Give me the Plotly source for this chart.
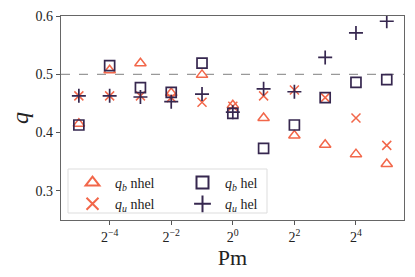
import numpy as np
import plotly.graph_objects as go

pm = [2.0**k for k in range(-5, 6)]
qb_nhel = [0.415, 0.507, 0.519, 0.468, 0.499, 0.447, 0.425, 0.395, 0.379, 0.363, 0.346]
qu_nhel = [0.463, 0.463, 0.463, 0.460, 0.452, 0.445, 0.463, 0.473, 0.460, 0.425, 0.378]
qb_hel = [0.413, 0.515, 0.477, 0.469, 0.519, 0.433, 0.373, 0.413, 0.460, 0.486, 0.491]
qu_hel = [0.463, 0.463, 0.461, 0.453, 0.466, 0.435, 0.475, 0.470, 0.529, 0.571, 0.591]

xtick_vals = [2.0**-4, 2.0**-2, 2.0**0, 2.0**2, 2.0**4]
xtick_text = ["2<sup>−4</sup>", "2<sup>−2</sup>", "2<sup>0</sup>", "2<sup>2</sup>", "2<sup>4</sup>"]
ytick_vals = [0.3, 0.4, 0.5, 0.6]
ytick_text = ["0.3", "0.4", "0.5", "0.6"]

ORANGE = "#f2674a"
DARK = "#36274f"
FONT = "Liberation Serif"

fig = go.Figure()
fig.add_trace(go.Scatter(x=pm, y=qb_nhel, mode="markers", name="<i>q</i><sub><i>b</i></sub> nhel",
                         marker=dict(symbol="triangle-up-open", size=10, color=ORANGE, line=dict(width=1.5, color=ORANGE)),
                         legend="legend"))
fig.add_trace(go.Scatter(x=pm, y=qu_nhel, mode="markers", name="<i>q</i><sub><i>u</i></sub> nhel",
                         marker=dict(symbol="x-thin-open", size=9, color=ORANGE, line=dict(width=1.5, color=ORANGE)),
                         legend="legend"))
fig.add_trace(go.Scatter(x=pm, y=qb_hel, mode="markers", name="<i>q</i><sub><i>b</i></sub> hel",
                         marker=dict(symbol="square-open", size=10, color=DARK, line=dict(width=1.7, color=DARK)),
                         legend="legend2"))
fig.add_trace(go.Scatter(x=pm, y=qu_hel, mode="markers", name="<i>q</i><sub><i>u</i></sub> hel",
                         marker=dict(symbol="cross-thin-open", size=10, color=DARK, line=dict(width=1.7, color=DARK)),
                         legend="legend2"))

fig.add_shape(type="line", xref="paper", x0=0, x1=1, yref="y", y0=0.5, y1=0.5,
              line=dict(color="#999999", width=1.3, dash="dash"), layer="below")

# legend frame
L, T, R, B = 68, 169, 267, 213
W, H = 415, 277
ml, mr, mt, mb = 61, 11, 16, 57
pw, ph = W - ml - mr, H - mt - mb
def px(x):
    return (x - ml) / pw
def py(y):
    return 1 - (y - mt) / ph
fig.add_shape(type="rect", xref="paper", yref="paper", x0=px(L), x1=px(R), y0=py(B), y1=py(T),
              line=dict(color="#dddddd", width=1), fillcolor="rgba(255,255,255,0.8)", layer="above")

leg_common = dict(bgcolor="rgba(0,0,0,0)", borderwidth=0, font=dict(family=FONT, size=14, color="#222222"),
                  xanchor="left", yanchor="top", itemsizing="constant", tracegroupgap=0, itemwidth=35)
fig.update_layout(
    width=W, height=H,
    margin=dict(l=ml, r=mr, t=mt, b=mb, autoexpand=False),
    plot_bgcolor="white", paper_bgcolor="white",
    font=dict(family=FONT, size=14, color="#222222"),
    legend=dict(x=px(70), y=py(167), **leg_common),
    legend2=dict(x=px(180), y=py(167), **leg_common),
    xaxis=dict(type="log", range=[np.log10(2) * -5.58, np.log10(2) * 5.56], automargin=False,
               tickvals=xtick_vals, ticktext=xtick_text, ticks="outside", ticklen=4, tickcolor="#555555",
               showgrid=False, zeroline=False, showline=True, mirror=True, linecolor="#666666", linewidth=1.2,
               tickfont=dict(family=FONT, size=14),
               title=dict(text="Pm", font=dict(family=FONT, size=22), standoff=0)),
    yaxis=dict(range=[0.25, 0.6], tickvals=ytick_vals, ticktext=ytick_text, ticks="outside", ticklen=4,
               automargin=False,
               tickcolor="#555555", showgrid=False, zeroline=False, showline=True, mirror=True,
               linecolor="#666666", linewidth=1.2, tickfont=dict(family=FONT, size=14),
               title=dict(text="<i>q</i>", font=dict(family=FONT, size=24), standoff=0)),
)

fig.write_html("out.html", config={"displayModeBar": False},
               post_script="document.body.style.margin='0';document.body.style.overflow='hidden';")
